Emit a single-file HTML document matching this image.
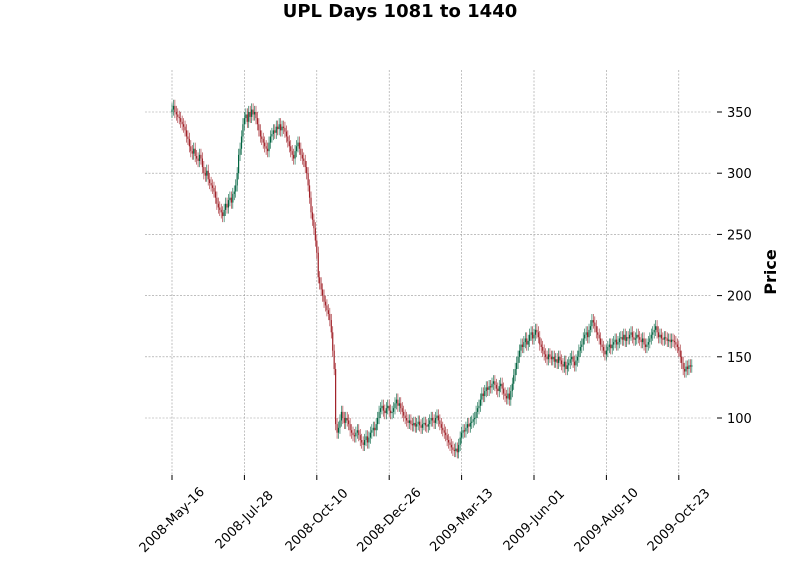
<!DOCTYPE html>
<html><head><meta charset="utf-8"><style>
body{margin:0;background:#fff;}
svg{display:block;font-family:"DejaVu Sans","Liberation Sans",sans-serif;}
</style></head><body>
<svg id="chart" width="800" height="575">
<text x="400" y="17" text-anchor="middle" font-size="18" font-weight="bold">UPL Days 1081 to 1440</text>
<text transform="translate(776,272) rotate(-90)" text-anchor="middle" font-size="16" font-weight="bold">Price</text>
<g id="grid"></g><g id="candles"></g><g id="axes"></g>
</svg>
<script>
const closes = [
352,355,350,348,346,345,342,340,338,335,330,328,322,318,316,320,314,312,310,315,
312,305,300,298,302,295,292,290,288,285,280,275,272,270,268,265,270,275,272,278,
280,276,283,285,290,300,315,320,330,340,345,348,342,350,346,352,348,350,345,340,
335,330,328,325,322,320,318,325,330,332,335,333,338,336,340,335,338,337,334,330,
326,322,318,315,312,318,322,325,320,315,312,310,305,300,290,280,268,262,255,245,
235,215,210,205,200,195,192,188,185,180,170,155,140,95,88,92,98,105,100,96,
100,98,95,90,88,86,85,88,90,86,82,80,78,82,85,80,84,88,90,92,
90,95,100,105,108,110,106,104,108,110,106,104,105,108,112,115,110,112,108,105,
102,100,98,96,98,95,94,96,93,95,97,94,92,95,96,94,93,95,98,100,
98,96,100,102,98,95,92,90,88,86,82,80,78,76,74,73,75,72,78,84,
88,90,89,92,95,93,96,97,99,100,105,108,110,115,120,118,122,125,123,126,
125,128,130,127,124,122,126,128,124,120,118,116,120,115,122,128,135,140,145,150,
155,160,158,162,165,160,163,168,170,165,168,172,170,166,160,158,155,152,150,148,
152,150,148,150,146,148,145,150,147,144,142,146,140,143,145,148,150,146,143,147,
150,155,158,160,165,168,170,166,172,175,180,178,175,170,168,165,160,158,155,152,
155,158,160,157,160,162,164,160,162,165,166,164,168,163,166,165,168,170,166,164,
165,168,166,164,162,165,160,158,160,162,165,168,170,172,175,170,166,168,165,164,
166,165,163,164,162,164,163,162,160,158,155,150,145,140,138,142,140,143,142,143];
const opens = closes.map((c,i)=> i===0 ? 350 : closes[i-1]);
const xTickIdx = [0,50,100,150,200,250,300,350];
const xTickLabels = ["2008-May-16","2008-Jul-28","2008-Oct-10","2008-Dec-26","2009-Mar-13","2009-Jun-01","2009-Aug-10","2009-Oct-23"];
const yTicks = [100,150,200,250,300,350];

const NS="http://www.w3.org/2000/svg";
const L=145,R=711,T=70,B=475;
const xs=i=>172+i*1.448;
const ys=v=>418-(v-100)*1.224;
function mk(t,a,p){const e=document.createElementNS(NS,t);for(const k in a)e.setAttribute(k,a[k]);p.appendChild(e);return e;}
const grid=document.getElementById('grid'),cg=document.getElementById('candles'),ax=document.getElementById('axes');
yTicks.forEach(v=>{
  const y=ys(v);
  const g=mk('line',{x1:L,x2:R,y1:y,y2:y,stroke:'#999','stroke-width':0.6,'stroke-dasharray':'2,1.5'},grid);
  
  
  mk('line',{x1:R+6,x2:R+11,y1:y,y2:y,stroke:'#000'},ax);
  const t=mk('text',{x:R+16,y:y+5,'font-size':13},ax);t.textContent=v;
  
  
});
xTickIdx.forEach((idx,k)=>{
  const x=xs(idx);
  const g=mk('line',{x1:x,x2:x,y1:T,y2:B,stroke:'#999','stroke-width':0.6,'stroke-dasharray':'2,1.5'},grid);
  
  
  mk('line',{x1:x,x2:x,y1:B,y2:B+5,stroke:'#000'},ax);
  const cx=x, cy=B+45;
  const t=mk('text',{x:cx,y:cy+4,'font-size':13,'text-anchor':'middle',transform:`rotate(-45 ${cx} ${cy})`},ax);
  t.textContent=xTickLabels[k];
  
  
});
closes.forEach((c,i)=>{
  const o=opens[i],x=xs(i),up=c>=o,col=up?'#006340':'#A02128';
  const hi=Math.max(o,c)+5,lo=Math.min(o,c)-5;
  const w=mk('line',{x1:x,x2:x,y1:ys(hi),y2:ys(lo),stroke:col,'stroke-width':0.6},cg);
  
  
  const top=ys(Math.max(o,c)),h=Math.max(0.8,Math.abs(ys(o)-ys(c)));
  const b=mk('rect',{x:x-0.6,y:top,width:1.2,height:h,fill:col},cg);
  
  
});
</script>
</body></html>
